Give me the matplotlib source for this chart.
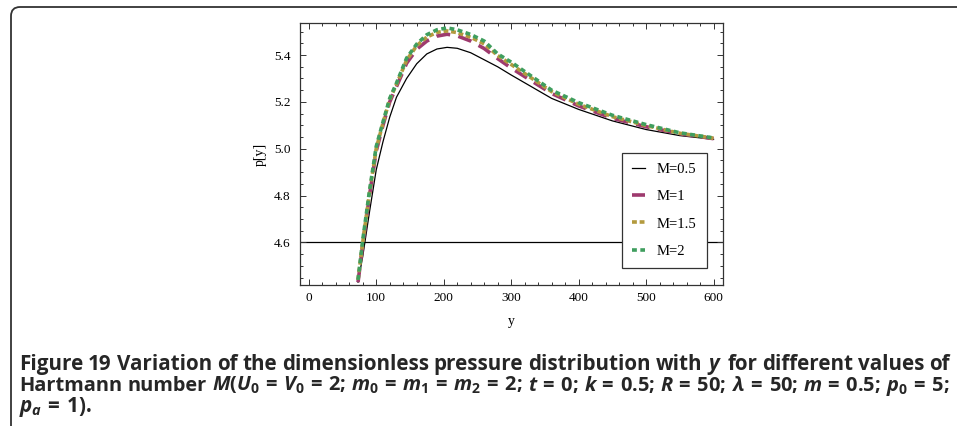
import matplotlib
matplotlib.use("Agg")
import matplotlib.pyplot as plt
from matplotlib.patches import FancyBboxPatch
from matplotlib.transforms import IdentityTransform
from matplotlib.ticker import MultipleLocator

y_pts = [73, 80, 90, 100, 110, 120, 130, 145, 160, 175, 190, 205, 220,
         240, 260, 280, 300, 330, 360, 400, 450, 500, 550, 600]

# p[y] for each Hartmann number
p_m05 = [4.43, 4.54, 4.73, 4.91, 5.03, 5.135, 5.22, 5.30, 5.363, 5.405, 5.426, 5.433, 5.429,
         5.41, 5.38, 5.35, 5.315, 5.265, 5.215, 5.168, 5.119, 5.082, 5.056, 5.04]
p_m1 = [4.43, 4.59, 4.80, 4.99, 5.10, 5.20, 5.265, 5.365, 5.425, 5.46, 5.481, 5.489, 5.482,
        5.46, 5.428, 5.385, 5.345, 5.29, 5.236, 5.183, 5.13, 5.094, 5.064, 5.043]
p_m15 = [4.44, 4.60, 4.81, 5.00, 5.11, 5.21, 5.275, 5.378, 5.44, 5.477, 5.497, 5.503, 5.496,
         5.476, 5.448, 5.398, 5.36, 5.302, 5.244, 5.19, 5.137, 5.099, 5.066, 5.045]
p_m2 = [4.44, 4.61, 4.82, 5.01, 5.114, 5.215, 5.28, 5.387, 5.447, 5.487, 5.508, 5.516, 5.508,
        5.488, 5.46, 5.405, 5.37, 5.31, 5.25, 5.197, 5.143, 5.103, 5.068, 5.046]

labels = ["M=0.5", "M=1", "M=1.5", "M=2"]
colors = ["black", "#9e3a6e", "#b39a3e", "#3f9e5e"]

# caption, one list of words per line
caption1 = ["Figure", "19", "Variation", "of", "the", "dimensionless", "pressure", "distribution",
            "with", "$y$", "for", "different", "values", "of"]
caption2 = ["Hartmann", "number", r"$M(U_0\,=\,V_0\,=\,2;$", r"$m_0\,=\,m_1\,=\,m_2\,=\,2;$",
            r"$t\,=\,0;$", r"$k\,=\,0.5;$", r"$R\,=\,50;$", r"$\lambda\,=\,50;$", r"$m\,=\,0.5;$",
            r"$p_0\,=\,5;$"]
caption3 = r"$p_a\,=\,1).$"

plt.rcParams["font.family"] = ["Liberation Serif", "DejaVu Serif"]
plt.rcParams["lines.scale_dashes"] = False
plt.rcParams["mathtext.fontset"] = "custom"
plt.rcParams["mathtext.rm"] = "Open Sans:bold"
plt.rcParams["mathtext.it"] = "Open Sans:italic:bold"
plt.rcParams["mathtext.bf"] = "Open Sans:bold"

fig = plt.figure(figsize=(9.57, 4.26), dpi=100)
ax = fig.add_axes([300 / 957, 1 - 285 / 426, 423 / 957, 262 / 426])

ax.axhline(4.6, color="black", lw=0.9, zorder=1)
ax.plot(y_pts, p_m05, color=colors[0], lw=0.9, label=labels[0], zorder=2)
ax.plot(y_pts, p_m1, color=colors[1], lw=2.6, dashes=(10, 6), label=labels[1], zorder=3)
ax.plot(y_pts, p_m15, color=colors[2], lw=2.6, dashes=(3.5, 2), label=labels[2], zorder=4)
ax.plot(y_pts, p_m2, color=colors[3], lw=2.6, dashes=(3.5, 2.5), label=labels[3], zorder=5)

ax.set_xlim(-13, 614)
ax.set_ylim(4.418, 5.537)
ax.set_xticks([0, 100, 200, 300, 400, 500, 600])
ax.set_yticks([4.6, 4.8, 5.0, 5.2, 5.4])
ax.set_yticklabels(["4.6", "4.8", "5.0", "5.2", "5.4"])
ax.xaxis.set_minor_locator(MultipleLocator(20))
ax.yaxis.set_minor_locator(MultipleLocator(0.05))
ax.tick_params(which="both", direction="in", top=True, right=True, width=0.7, colors="#333333",
               labelcolor="black", labelsize=9.5)
ax.tick_params(axis="y", which="major", length=4.5, pad=7)
ax.tick_params(axis="x", which="major", length=4.5, pad=5)
ax.tick_params(which="minor", length=2.3)
for s in ax.spines.values():
    s.set_color("#333333")
    s.set_linewidth(0.9)

ax.set_xlabel("y", fontsize=10, labelpad=8)
ax.set_ylabel("p[y]", fontsize=10, labelpad=5)

leg = ax.legend(loc="upper right", bbox_to_anchor=((707 - 300) / 423, 1 - (153 - 23) / 262),
                borderaxespad=0, fancybox=False, framealpha=1, edgecolor="#333333",
                fontsize=10.5, handlelength=0.9, handletextpad=0.8, labelspacing=0.95,
                borderpad=0.7)
leg.get_frame().set_linewidth(0.9)

# page frame with rounded top-left corner
frame = FancyBboxPatch((11, -60), 1200, 419 + 60, boxstyle="round,pad=0,rounding_size=9",
                       transform=IdentityTransform(), fill=False, edgecolor="#333333", linewidth=1.3)
fig.add_artist(frame)

cap_font = dict(family="Open Sans", weight="bold", color="#262626")
r = fig.canvas.get_renderer()


def justified_line(words, y_px, size):
    # spread the words so the line runs from x=19 to x=950, like the typeset caption
    texts = [fig.text(0, 1 - y_px / 426, w, fontsize=size, va="baseline", **cap_font)
             for w in words]
    while True:
        widths = [t.get_window_extent(r).width for t in texts]
        gap = (931 - sum(widths)) / (len(words) - 1)
        if gap >= 4.5:
            break
        size -= 0.1
        for t in texts:
            t.set_fontsize(size)
    x = 19
    for t, wd in zip(texts, widths):
        t.set_x(x / 957)
        x += wd + gap
    return size


cap_size = justified_line(caption1, 370, 15)
justified_line(caption2, 391, cap_size)
fig.text(19 / 957, 1 - 412 / 426, caption3, fontsize=cap_size, va="baseline", **cap_font)

fig.savefig("out.png", dpi=100)
